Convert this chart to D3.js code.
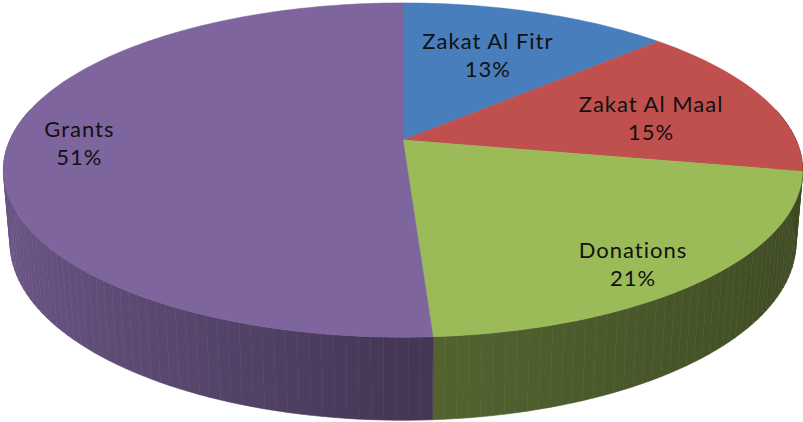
<!DOCTYPE html>
<html>
<head>
<meta charset="utf-8">
<script src="https://cdn.jsdelivr.net/npm/d3@7"></script>
<style>
  body { margin: 0; background: #fff; }
  text { font-family: Lato, "Open Sans", sans-serif; font-size: 22px; letter-spacing: 1px; fill: #111; }
</style>
</head>
<body>
<div id="chart"></div>
<script>
// data
const categories = ["Zakat Al Fitr", "Zakat Al Maal", "Donations", "Grants"];
const shares = [13, 15, 21, 51];
const sliceColors = ["#477ebb", "#c0504d", "#9bbb59", "#7f659e"];

const width = 803, height = 422;

// camera for the tilted 3D pie (unit radius disc, perspective)
const cx = 403, cy = 140;
const tilt = 24.3 * Math.PI / 180;
const sinT = Math.sin(tilt), cosT = Math.cos(tilt);
const dist = 5.07, focal = 1993, thickness = 0.203;

function project(theta, r, y) {
    const X = r * Math.sin(theta), Z = r * Math.cos(theta);
    const yc = Z * sinT + y * cosT;
    const d = dist + Z * cosT - y * sinT;
    return [cx + focal * X / d, cy - focal * yc / d];
}

// where Excel put each label: radius fraction and shift from mid angle (deg)
const labelPlace = [{r: 0.62, shift: -0.8}, {r: 0.66, shift: 4.5}, {r: 0.85, shift: 4.2}, {r: 0.82, shift: 0.1}];

const svg = d3.select("#chart")
    .append("svg")
    .attr("width", width)
    .attr("height", height);

const pie = d3.pie().sort(null).value(d => d);
const arcs = pie(shares);
const line = d3.line();
const step = 1.5 * Math.PI / 180;

// side shading gets darker towards the right
const shade = d3.scaleLinear().domain([-1, 0, 1]).range([0.86, 0.54, 0.40]);

function darken(col, k) {
    const c = d3.rgb(col);
    return d3.rgb(c.r * k, c.g * k, c.b * k).formatHex();
}

// side facets, far ones first
let facets = [];
arcs.forEach((a, i) => {
    const n = Math.max(2, Math.ceil((a.endAngle - a.startAngle) / step));
    for (let j = 0; j < n; j++) {
        const t0 = a.startAngle + (a.endAngle - a.startAngle) * j / n;
        const t1 = a.startAngle + (a.endAngle - a.startAngle) * (j + 1) / n;
        const tm = (t0 + t1) / 2;
        facets.push({
            pts: [project(t0, 1, 0), project(t1, 1, 0), project(t1, 1, -thickness), project(t0, 1, -thickness)],
            z: Math.cos(tm),
            color: darken(sliceColors[i], shade(Math.sin(tm)))
        });
    }
});
facets = facets.filter(f => f.z < 0.2).sort((a, b) => b.z - a.z);

svg.append("g")
    .selectAll("path")
    .data(facets)
    .join("path")
    .attr("d", f => line(f.pts) + "Z")
    .attr("fill", f => f.color)
    .attr("stroke", f => f.color)
    .attr("stroke-width", 0.6);

// top faces
svg.append("g")
    .selectAll("path")
    .data(arcs)
    .join("path")
    .attr("d", a => {
        const n = Math.ceil((a.endAngle - a.startAngle) / step);
        const pts = [project(0, 0, 0)];
        for (let j = 0; j <= n; j++) {
            pts.push(project(a.startAngle + (a.endAngle - a.startAngle) * j / n, 1, 0));
        }
        return line(pts) + "Z";
    })
    .attr("fill", (a, i) => sliceColors[i])
    .attr("stroke", (a, i) => sliceColors[i])
    .attr("stroke-width", 0.5);

// labels
svg.append("g")
    .selectAll("text")
    .data(arcs)
    .join("text")
    .attr("text-anchor", "middle")
    .each(function(a, i) {
        const mid = (a.startAngle + a.endAngle) / 2 + labelPlace[i].shift * Math.PI / 180;
        const p = project(mid, labelPlace[i].r, 0);
        const t = d3.select(this);
        t.append("tspan").attr("x", p[0]).attr("y", p[1] - 7).text(categories[i]);
        t.append("tspan").attr("x", p[0]).attr("y", p[1] + 21).text(shares[i] + "%");
    });
</script>
</body>
</html>
